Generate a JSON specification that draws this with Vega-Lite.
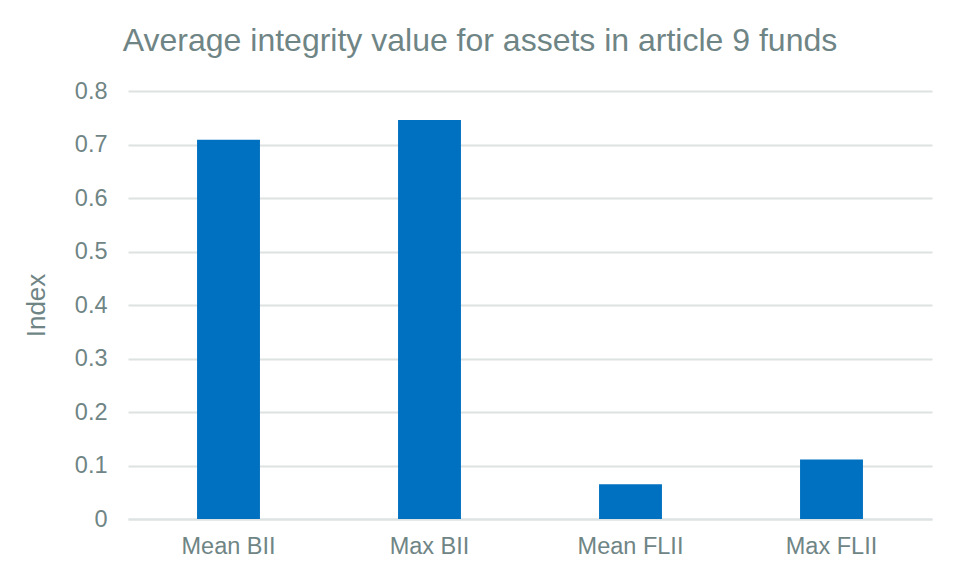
{
  "$schema": "https://vega.github.io/schema/vega-lite/v6.json",
  "width": 804,
  "height": 428,
  "autosize": {"type": "none"},
  "padding": {"left": 128, "top": 91, "right": 28, "bottom": 59},
  "background": "white",
  "title": {
    "text": "Average integrity value for assets in article 9 funds",
    "font": "Liberation Sans",
    "fontSize": 32,
    "fontWeight": "normal",
    "color": "#6f8585",
    "anchor": "middle",
    "frame": "group",
    "dx": -50,
    "offset": 21
  },
  "data": {
    "values": [
      {"metric": "Mean BII", "value": 0.709},
      {"metric": "Max BII", "value": 0.746},
      {"metric": "Mean FLII", "value": 0.065},
      {"metric": "Max FLII", "value": 0.111}
    ]
  },
  "mark": {"type": "bar", "color": "#0070c0"},
  "encoding": {
    "x": {
      "field": "metric",
      "type": "nominal",
      "sort": null,
      "scale": {"paddingInner": 0.687, "paddingOuter": 0.3435},
      "axis": {
        "title": null,
        "labelAngle": 0,
        "labelFont": "Liberation Sans",
        "labelFontSize": 23.5,
        "labelColor": "#6f8585",
        "labelPadding": 15,
        "ticks": false,
        "domainColor": "#dde2e2",
        "domainWidth": 2
      }
    },
    "y": {
      "field": "value",
      "type": "quantitative",
      "scale": {"domain": [0, 0.8]},
      "axis": {
        "title": "Index",
        "titleFont": "Liberation Sans",
        "titleFontSize": 26,
        "titleFontWeight": "normal",
        "titleColor": "#6f8585",
        "titlePadding": 25,
        "values": [0, 0.1, 0.2, 0.3, 0.4, 0.5, 0.6, 0.7, 0.8],
        "format": "~g",
        "labelFont": "Liberation Sans",
        "labelFontSize": 23.5,
        "labelColor": "#6f8585",
        "labelPadding": 21,
        "ticks": false,
        "domain": false,
        "gridColor": "#dde2e2",
        "gridWidth": 2
      }
    }
  },
  "config": {"view": {"stroke": null}}
}
